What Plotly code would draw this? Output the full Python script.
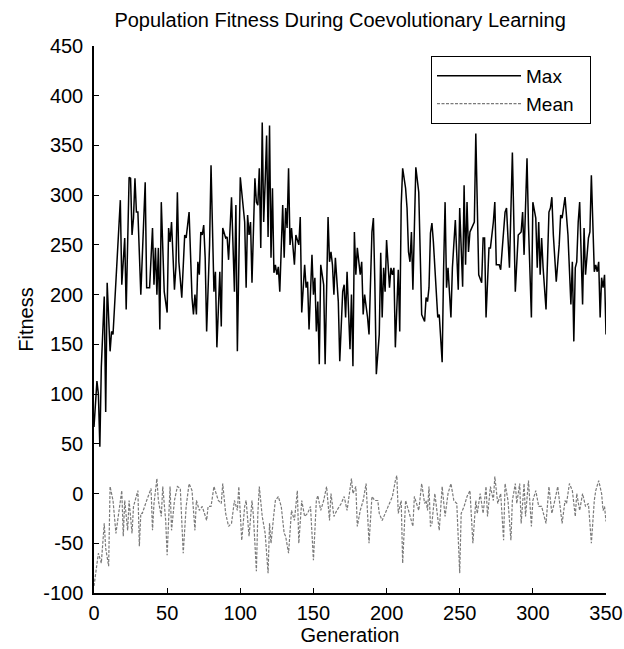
import plotly.graph_objects as go

# ---- data ----
max_gen = [0,2,3,4,5,7,8,9,11,12,13,15,16,18,19,20,21,22,24,25,26,27,28,29,30,32,35,36,38,40,41,42,43,44,45,46,48,50,51,52,53,55,56,57,58,60,62,63,65,67,68,69,70,71,72,73,74,75,76,77,79,80,82,83,84,86,87,88,90,91,92,94,96,97,98,100,102,103,104,105,106,107,108,110,111,112,113,114,115,116,117,118,119,120,121,122,123,124,125,126,127,129,130,131,132,133,134,135,137,138,140,141,142,144,145,146,147,149,150,151,152,153,154,155,157,158,160,161,162,163,164,165,167,168,170,171,172,173,175,176,177,178,179,180,182,183,184,185,187,188,190,191,192,193,195,196,197,198,199,200,202,203,204,205,206,208,209,210,211,213,214,215,216,217,218,220,222,223,224,226,227,228,229,230,231,232,233,235,236,238,239,240,241,242,244,245,247,249,250,252,253,254,255,256,257,259,260,261,263,265,266,267,268,270,271,273,274,275,277,278,279,281,282,284,286,287,288,290,292,293,294,296,297,299,300,302,303,304,305,306,307,309,311,312,313,314,316,318,319,320,322,324,326,327,328,329,330,331,332,334,335,336,338,339,340,342,343,344,345,346,347,348,349,350]
max_fit = [67,113,100,47,127,198,82,212,143,163,160,210,233,295,210,237,257,185,318,317,260,277,317,283,283,200,313,207,207,267,210,247,200,247,165,293,203,182,267,253,273,205,228,303,233,197,260,257,283,197,180,200,180,233,220,263,260,270,237,163,250,330,203,223,147,223,168,267,257,258,235,298,203,290,143,318,283,273,207,280,260,273,212,317,293,290,327,247,373,273,313,360,258,370,237,307,222,230,220,228,203,290,237,287,267,327,250,267,230,260,250,278,182,230,207,213,165,240,200,217,163,193,130,230,210,130,278,233,243,230,200,237,193,133,203,210,177,223,145,200,128,263,220,247,220,233,180,200,177,160,263,277,210,120,160,242,177,227,203,255,207,227,220,227,147,225,163,290,327,307,287,243,233,263,205,328,303,253,180,173,197,193,207,262,272,253,227,177,180,132,227,293,207,227,177,227,275,205,287,208,310,230,293,243,263,270,273,362,220,212,257,257,177,247,247,273,293,230,230,225,243,283,287,227,343,260,203,260,263,283,240,337,270,177,293,277,227,273,220,257,227,185,283,287,298,260,213,250,280,277,298,260,190,233,153,227,233,273,293,190,267,220,257,263,320,223,230,223,233,177,217,207,220,160]

mean_gen = [0,1,3,5,7,8,10,11,13,15,17,19,20,21,23,24,26,27,30,31,32,33,36,39,40,41,43,44,46,47,49,50,52,53,55,57,59,61,63,65,67,69,70,72,74,77,78,80,82,85,87,88,90,92,94,96,98,99,101,103,104,106,108,109,111,112,113,115,117,119,120,121,123,124,126,128,130,131,133,135,137,139,140,142,144,146,148,150,152,153,155,157,159,161,162,164,166,169,171,173,176,177,179,180,182,184,186,188,190,192,194,195,197,199,202,204,206,207,208,210,211,213,215,218,219,222,224,226,227,228,229,230,231,233,236,238,240,242,244,246,248,250,251,253,255,257,259,261,262,264,266,268,269,271,273,274,276,278,280,281,283,285,286,288,289,291,292,294,295,297,299,300,302,304,306,309,311,313,315,317,320,322,323,325,327,329,330,332,334,336,338,340,342,343,345,347,348,349,350]
mean_fit = [-93,-80,-60,-70,-30,-55,-73,7,-7,-40,-20,3,-43,-7,-37,-7,-40,-13,3,-53,-20,-20,-7,5,-37,-10,15,-7,-23,7,-27,-62,7,-37,-7,7,5,-60,-13,10,3,-37,-7,-17,-13,-27,-13,-13,7,-7,-10,10,-20,-33,-30,-7,-17,7,-47,-13,-7,-43,-7,-23,-78,-20,7,-23,-40,-80,-30,-50,-20,-7,-3,-13,-40,-43,-60,-17,-27,3,-50,-7,-23,-20,-13,-67,-7,-2,-17,-7,7,-27,0,-23,-17,-10,-3,-17,15,0,7,-33,-17,-7,10,-50,-3,-7,-7,-20,-27,-20,-10,-3,13,18,-20,-7,-70,-7,-17,-33,-3,-17,10,-10,-7,-17,7,-33,-30,0,-37,7,-23,0,10,-7,-10,-80,-20,-13,-3,3,-50,-7,-20,0,-20,7,-23,7,-7,17,-10,0,-47,10,-7,-47,-7,10,-10,10,-30,10,-23,13,-33,-7,3,-13,-13,-30,7,-20,-7,7,-30,-7,-10,10,3,-23,0,-17,0,-13,-10,-50,-7,3,13,0,-17,-13,-28]

y_ticks = [-100,-50,0,50,100,150,200,250,300,350,400,450]
y_tick_text = ["-100","-50","0","50","100","150","200","250","300","350","400","450"]
x_ticks = [0,50,100,150,200,250,300,350]

FONT = "Liberation Sans, Arial, Helvetica, sans-serif"
PAD = "\u00a0\u00a0"

fig = go.Figure()
fig.add_trace(go.Scatter(x=max_gen, y=max_fit, mode="lines", name="Max",
                         line=dict(color="black", width=1.5)))
fig.add_trace(go.Scatter(x=mean_gen, y=mean_fit, mode="lines", name="Mean" + PAD,
                         line=dict(color="#7a7a7a", width=1.2, dash="3px,1.5px")))

fig.update_layout(
    width=624, height=649,
    margin=dict(l=94, r=18, t=46, b=56, autoexpand=False),
    paper_bgcolor="white", plot_bgcolor="white",
    font=dict(family=FONT, color="black", size=20),
    title=dict(text="Population Fitness During Coevolutionary Learning",
               x=0.545, xref="container", xanchor="center",
               y=1 - 20/649, yref="container", yanchor="middle",
               font=dict(size=20, family=FONT, color="black")),
    legend=dict(x=(431-94)/512, xanchor="left", y=(593-56)/547, yanchor="top",
                bordercolor="black", borderwidth=1, bgcolor="white",
                font=dict(size=19, family=FONT), itemwidth=84,
                tracegroupgap=0),
    showlegend=True,
)
fig.update_xaxes(range=[0, 350], tickvals=x_ticks, ticks="inside", ticklen=5,
                 showline=True, linecolor="black", linewidth=1.5, tickcolor="black",
                 showgrid=False, zeroline=False, mirror=False, automargin=False,
                 ticklabelstandoff=1,
                 title=dict(text="Generation", font=dict(size=20, family=FONT), standoff=5))
fig.update_yaxes(range=[-100, 450], tickvals=y_ticks, ticktext=y_tick_text,
                 ticks="inside", ticklen=5,
                 showline=True, linecolor="black", linewidth=1.5, tickcolor="black",
                 showgrid=False, zeroline=False, mirror=False, automargin=False,
                 ticklabelstandoff=5,
                 title=dict(text="Fitness", font=dict(size=20, family=FONT), standoff=4))

fig.write_html("out.html", config={"displayModeBar": False},
               post_script="document.body.style.margin='0';")
